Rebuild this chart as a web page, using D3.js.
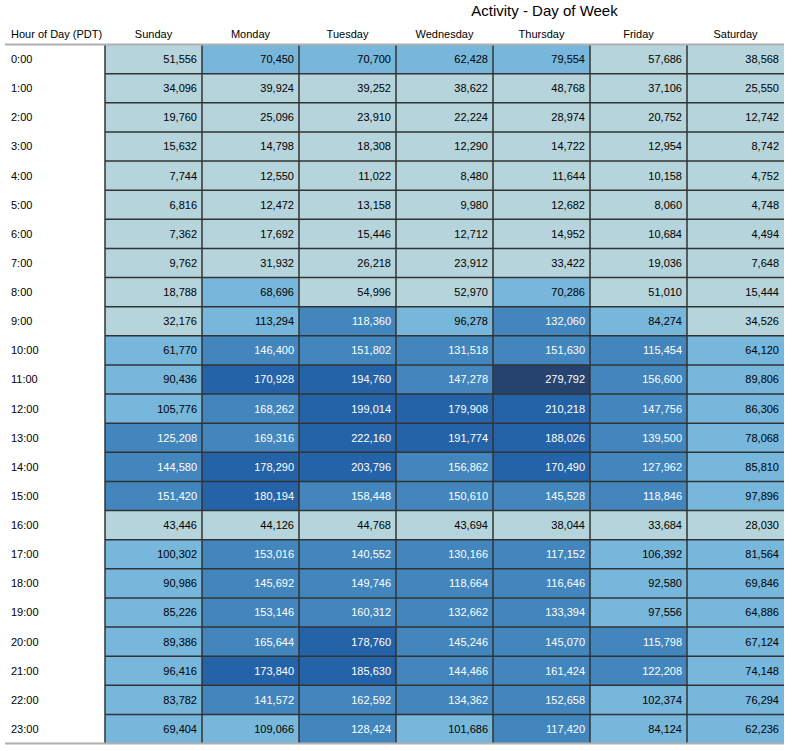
<!DOCTYPE html>
<html><head><meta charset="utf-8">
<script src="https://cdn.jsdelivr.net/npm/d3@7"></script>
<style>body{margin:0;background:#fff;} text{font-family:"Liberation Sans",Arial,Helvetica,sans-serif;}</style>
</head><body>
<svg id="chart" width="793" height="751"></svg>
<script>
const title = "Activity - Day of Week";
const rowHeader = "Hour of Day (PDT)";
const days = ["Sunday","Monday","Tuesday","Wednesday","Thursday","Friday","Saturday"];
const hours = ["0:00","1:00","2:00","3:00","4:00","5:00","6:00","7:00","8:00","9:00","10:00","11:00","12:00","13:00","14:00","15:00","16:00","17:00","18:00","19:00","20:00","21:00","22:00","23:00"];
const sunday    = [51556,34096,19760,15632,7744,6816,7362,9762,18788,32176,61770,90436,105776,125208,144580,151420,43446,100302,90986,85226,89386,96416,83782,69404];
const monday    = [70450,39924,25096,14798,12550,12472,17692,31932,68696,113294,146400,170928,168262,169316,178290,180194,44126,153016,145692,153146,165644,173840,141572,109066];
const tuesday   = [70700,39252,23910,18308,11022,13158,15446,26218,54996,118360,151802,194760,199014,222160,203796,158448,44768,140552,149746,160312,178760,185630,162592,128424];
const wednesday = [62428,38622,22224,12290,8480,9980,12712,23912,52970,96278,131518,147278,179908,191774,156862,150610,43694,130166,118664,132662,145246,144466,134362,101686];
const thursday  = [79554,48768,28974,14722,11644,12682,14952,33422,70286,132060,151630,279792,210218,188026,170490,145528,38044,117152,116646,133394,145070,161424,152658,117420];
const friday    = [57686,37106,20752,12954,10158,8060,10684,19036,51010,84274,115454,156600,147756,139500,127962,118846,33684,106392,92580,97556,115798,122208,102374,84124];
const saturday  = [38568,25550,12742,8742,4752,4748,4494,7648,15444,34526,64120,89806,86306,78068,85810,97896,28030,81564,69846,64886,67124,74148,76294,62236];
const series = [sunday,monday,tuesday,wednesday,thursday,friday,saturday];
const palette = ["#b6d4db","#77b7dc","#4286bd","#2563a8","#27436f"];

const cells = [];
series.forEach((vals,di)=>vals.forEach((v,hi)=>cells.push({day:days[di],hour:hours[hi],value:v})));
const all = cells.map(d=>d.value);

const svg = d3.select("#chart");
const x = d3.scaleBand().domain(days).range([105,784]);
const y = d3.scaleBand().domain(hours).range([44.5,743.5]);
const color = d3.scaleQuantize().domain(d3.extent(all)).range(palette);
const fmt = d3.format(",");

svg.append("text").attr("x",544.5).attr("y",15.5).attr("text-anchor","middle")
  .style("font-size","15px").attr("fill","#000").text(title);

svg.append("text").attr("x",11).attr("y",37.5).style("font-size","11px").attr("fill","#000").text(rowHeader);
svg.selectAll(".colh").data(days).join("text").attr("class","colh")
  .attr("x",d=>x(d)+x.bandwidth()/2).attr("y",37.5).attr("text-anchor","middle")
  .style("font-size","11px").attr("fill","#000").text(d=>d);

svg.selectAll(".cell").data(cells).join("rect").attr("class","cell")
  .attr("x",d=>x(d.day)).attr("y",d=>y(d.hour))
  .attr("width",x.bandwidth()).attr("height",y.bandwidth())
  .attr("fill",d=>color(d.value));

// grid lines
svg.selectAll(".vline").data(days).join("line").attr("class","vline")
  .attr("x1",d=>x(d)).attr("x2",d=>x(d)).attr("y1",y.range()[0]).attr("y2",y.range()[1])
  .attr("stroke","#333").attr("stroke-width",1.5);
svg.selectAll(".hline").data(hours.slice(1)).join("line").attr("class","hline")
  .attr("x1",x.range()[0]).attr("x2",x.range()[1]).attr("y1",d=>y(d)).attr("y2",d=>y(d))
  .attr("stroke","#333").attr("stroke-width",1.5);

svg.selectAll(".rowl").data(hours).join("text").attr("class","rowl")
  .attr("x",11).attr("y",d=>y(d)+y.bandwidth()/2+4).style("font-size","11px").attr("fill","#000").text(d=>d);

svg.selectAll(".val").data(cells).join("text").attr("class","val")
  .attr("x",d=>x(d.day)+x.bandwidth()-5).attr("y",d=>y(d.hour)+y.bandwidth()/2+4)
  .attr("text-anchor","end").style("font-size","11px")
  .attr("fill",d=>palette.indexOf(color(d.value))>=2?"#fff":"#000")
  .text(d=>fmt(d.value));

[y.range()[0], y.range()[1]].forEach(yy=>{
  svg.append("line").attr("x1",5).attr("x2",784).attr("y1",yy).attr("y2",yy)
    .attr("stroke","#b0b0b0").attr("stroke-width",2);
});
</script>
</body></html>
